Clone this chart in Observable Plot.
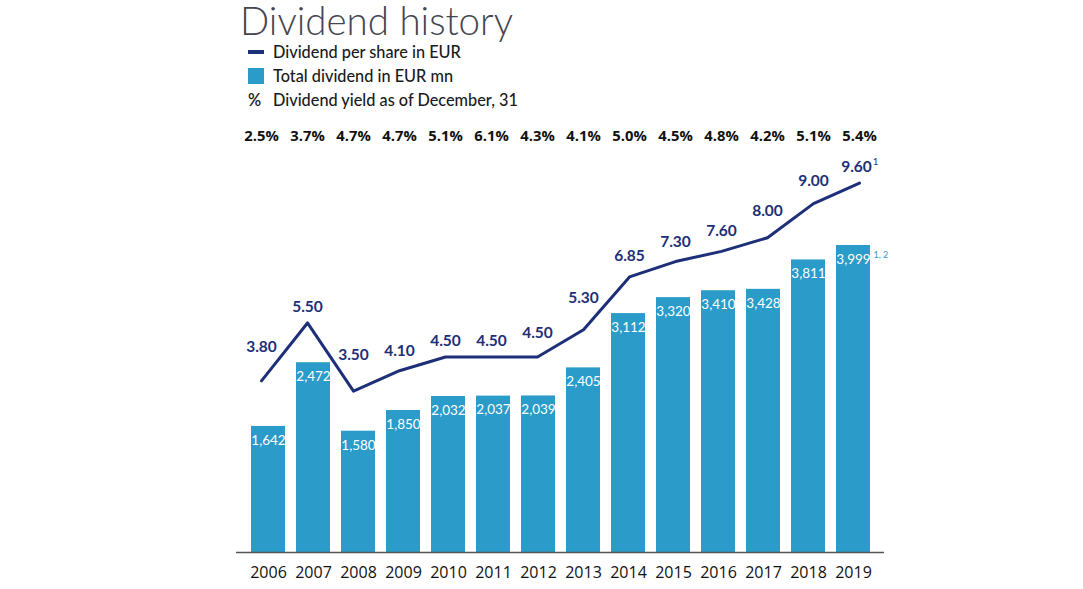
<!DOCTYPE html>
<html>
<head>
<meta charset="utf-8">
<script src="https://cdn.jsdelivr.net/npm/d3@7"></script>
<script src="https://cdn.jsdelivr.net/npm/@observablehq/plot@0.6"></script>
<style>
  html, body { margin: 0; padding: 0; background: #fff; }
  #page { position: relative; width: 1083px; height: 589px; }
  #page svg { position: absolute; left: 0; top: 0; overflow: visible; }
  #title { position: absolute; left: 240px; top: 0px; font-family: Lato, sans-serif; font-weight: 300; font-size: 38.5px; line-height: 40px; color: #454550; white-space: nowrap; }
  .leg { position: absolute; left: 248px; font-family: Lato, sans-serif; font-weight: 500; font-size: 16.3px; line-height: 18px; color: #1a1a1a; white-space: nowrap; display: flex; align-items: center; }
  .leg .sw { width: 16px; margin-right: 9px; display: inline-block; text-align: left; }
</style>
</head>
<body>
<div id="page">
  <div id="title">Dividend history</div>
  <div class="leg" style="top:43px"><span class="sw"><span style="display:block;width:16px;height:4px;background:#1c2f78"></span></span>Dividend per share in EUR</div>
  <div class="leg" style="top:67px"><span class="sw"><span style="display:block;width:16px;height:16px;background:#2b9bc9"></span></span>Total dividend in EUR mn</div>
  <div class="leg" style="top:91px"><span class="sw" style="font-weight:600">%</span>Dividend yield as of December, 31</div>
</div>
<script>
const years = ["2006","2007","2008","2009","2010","2011","2012","2013","2014","2015","2016","2017","2018","2019"];
const dividendPerShare = [3.80, 5.50, 3.50, 4.10, 4.50, 4.50, 4.50, 5.30, 6.85, 7.30, 7.60, 8.00, 9.00, 9.60];
const totalDividend = [1642, 2472, 1580, 1850, 2032, 2037, 2039, 2405, 3112, 3320, 3410, 3428, 3811, 3999];
const dividendYield = [2.5, 3.7, 4.7, 4.7, 5.1, 6.1, 4.3, 4.1, 5.0, 4.5, 4.8, 4.2, 5.1, 5.4];
const dpsFootnote = ["", "", "", "", "", "", "", "", "", "", "", "", "", "1"];
const totalFootnote = ["", "", "", "", "", "", "", "", "", "", "", "", "", "1, 2"];

const BAR = "#2b9bc9", LINE = "#1c2f78";
const W = 1083, H = 589;
const xOpts = {domain: years, paddingInner: 0.25, paddingOuter: 0.28, axis: null};

const rows = years.map((y, i) => ({
  year: y, dps: dividendPerShare[i], total: totalDividend[i], yld: dividendYield[i],
  dpsNote: dpsFootnote[i], totalNote: totalFootnote[i], prev: dividendPerShare[Math.max(0, i - 1)], next: dividendPerShare[Math.min(years.length - 1, i + 1)]
}));
// label anchor: keep the dividend label clear of the neighbouring line segments
const labelAnchor = d => {
  const v = d.dps, f = 0.3;
  return Math.max(v, v + f * (d.prev - v), v + f * (d.next - v));
};
const plain = rows.filter(d => !d.dpsNote);
const noted = rows.filter(d => d.dpsNote);
const dpsLabel = {x: "year", y: labelAnchor, text: d => d.dps.toFixed(2), dy: -16, fill: LINE, fontSize: 15.5, fontWeight: "bold", fontFamily: "Lato, sans-serif"};

const barPlot = Plot.plot({
  width: W, height: H,
  marginLeft: 236, marginRight: W - 884, marginBottom: H - 552, marginTop: 14.6,
  x: {...xOpts, axis: "bottom", tickSize: 0, tickPadding: 14, label: null},
  y: {domain: [0, 7000], axis: null},
  style: {fontFamily: "'Open Sans', sans-serif", fontSize: "16px", color: "#111", background: "transparent"},
  marks: [
    Plot.barY(rows, {x: "year", y: "total", fill: BAR}),
    Plot.text(rows, {x: "year", y: "total", text: d => d.total.toLocaleString("en-US"), dy: 14, fill: "white", fontSize: 13.5, fontFamily: "Lato, sans-serif"}),
    Plot.text(rows.filter(d => d.totalNote), {x: "year", y: "total", text: "totalNote", dx: 20, dy: 10, textAnchor: "start", fill: BAR, fontSize: 9, fontFamily: "Lato, sans-serif"}),
    Plot.ruleY([0], {stroke: "#555", strokeWidth: 1.5})
  ]
});

const linePlot = Plot.plot({
  width: W, height: H,
  marginLeft: 236, marginRight: W - 884, marginBottom: H - 510, marginTop: 32.6,
  x: xOpts,
  y: {domain: [0, 14], axis: null},
  style: {background: "transparent"},
  marks: [
    Plot.line(rows, {x: "year", y: "dps", stroke: LINE, strokeWidth: 3}),
    Plot.text(plain, dpsLabel),
    Plot.text(noted, {...dpsLabel, dx: -3}),
    Plot.text(noted, {x: "year", y: labelAnchor, text: "dpsNote", dx: 13.5, dy: -21, textAnchor: "start", fill: LINE, fontSize: 9, fontFamily: "Lato, sans-serif"}),
    Plot.text(rows, {x: "year", frameAnchor: "top", text: d => d.yld.toFixed(1) + "%", dy: 97.4, fill: "#111", fontSize: 14.8, fontWeight: "bold", fontFamily: "'Open Sans', sans-serif"})
  ]
});

const page = document.getElementById("page");
page.appendChild(barPlot);
page.appendChild(linePlot);
</script>
</body>
</html>
